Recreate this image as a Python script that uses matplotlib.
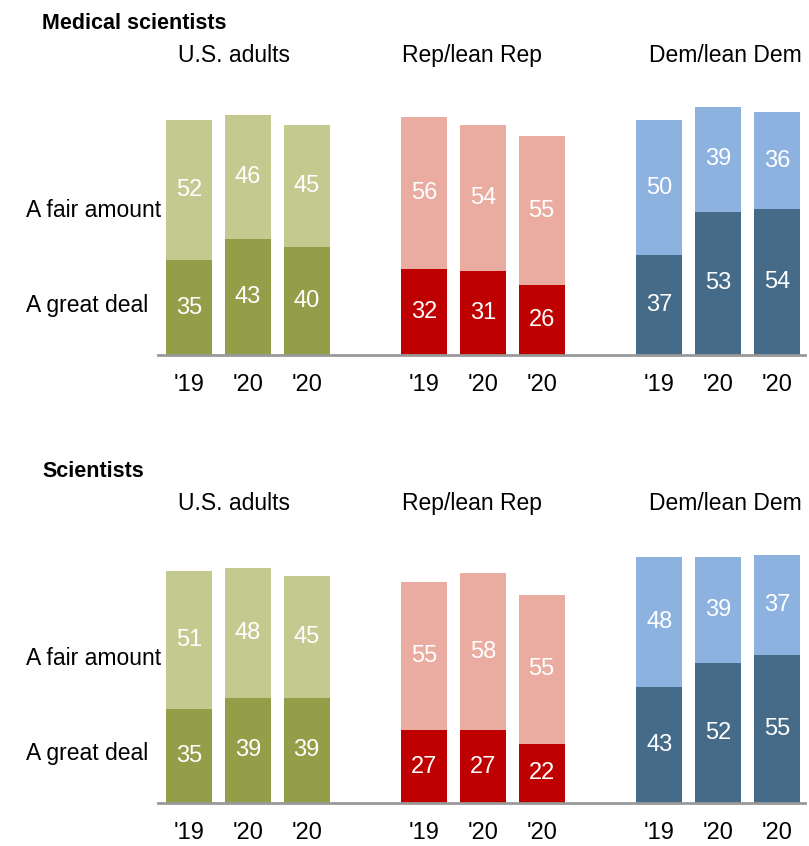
import numpy as np
import matplotlib
matplotlib.use('Agg')
import matplotlib.pyplot as plt
from matplotlib.transforms import blended_transform_factory

plt.rcParams['font.family'] = ['Liberation Sans', 'DejaVu Sans']

### DATA
groups = ['U.S. adults', 'Rep/lean Rep', 'Dem/lean Dem']
years = ["'19", "'20", "'20"]
row_labels = ['A fair amount', 'A great deal']

## Medical scientists
med_great = [[35, 43, 40], [32, 31, 26], [37, 53, 54]]
med_fair = [[52, 46, 45], [56, 54, 55], [50, 39, 36]]

## Scientists
sci_great = [[35, 39, 39], [27, 27, 22], [43, 52, 55]]
sci_fair = [[51, 48, 45], [55, 58, 55], [48, 39, 37]]

dark_colors = ['#949d48', '#bf0000', '#466b88']
light_colors = ['#c4ca8f', '#eaaba1', '#8db2e0']

# group title centres (bar-step units), not exactly over the bars in the original
group_label_x = [0.77, 4.81, 9.12]

W, H = 809, 846
fig = plt.figure(figsize=(W/100, H/100), dpi=100)

def panel(base_px, title, great, fair):
    # axes: baseline at base_px, 100 units = 270 px
    left, right = 158, 805
    ax = fig.add_axes([left/W, 1-base_px/H, (right-left)/W, 270/H])
    width = 0.78
    xt = []
    for g in range(3):
        x = g*4 + np.arange(3)
        xt += list(x)
        gr = np.array(great[g])
        fa = np.array(fair[g])
        ax.bar(x, gr, width, color=dark_colors[g], linewidth=0)
        ax.bar(x, fa, width, bottom=gr, color=light_colors[g], linewidth=0)
        for xi, a, b in zip(x, gr, fa):
            ax.text(xi, a/2, str(a), ha='center', va='center', color='w', fontsize=17)
            ax.text(xi, a + b/2, str(b), ha='center', va='center', color='w', fontsize=17)
        ax.text(group_label_x[g], 293/270, groups[g],
                transform=blended_transform_factory(ax.transData, ax.transAxes),
                ha='center', va='baseline', fontsize=16.5)
    ax.set_xlim(-0.53, 10.48)
    ax.set_ylim(0, 100)
    ax.set_xticks(xt)
    ax.set_xticklabels(years*3, fontsize=17)
    ax.tick_params(axis='x', length=0, pad=14)
    ax.set_yticks([])
    for s in ['top', 'right', 'left']:
        ax.spines[s].set_visible(False)
    ax.spines['bottom'].set_color('#999999')
    ax.spines['bottom'].set_linewidth(2)
    tr = blended_transform_factory(fig.transFigure, ax.transData)
    ax.text(26/W, 51.2, row_labels[0], transform=tr, ha='left', va='baseline', fontsize=16.5)
    ax.text(26/W, 16.0, row_labels[1], transform=tr, ha='left', va='baseline', fontsize=16.5)
    fig.text(42/W, 1-(base_px-326)/H, title, ha='left', va='baseline',
             fontsize=15.5, fontweight='bold')
    return ax

panel(355, 'Medical scientists', med_great, med_fair)
panel(803, 'Scientists', sci_great, sci_fair)

fig.savefig('out.png', dpi=100)
